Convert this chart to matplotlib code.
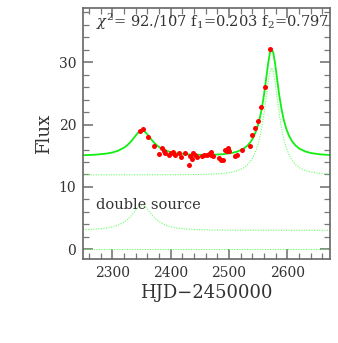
import matplotlib
matplotlib.use("Agg")
import matplotlib.pyplot as plt
from matplotlib.ticker import MultipleLocator

plt.rcParams["font.family"] = ["DejaVu Serif"]
plt.rcParams["mathtext.fontset"] = "dejavuserif"

# observed fluxes
obs_t = [2347, 2352, 2361, 2372, 2381, 2385, 2388, 2391, 2397, 2401,
         2404, 2408, 2414, 2418, 2425, 2432, 2434, 2437, 2439, 2442,
         2445, 2453, 2458, 2462, 2465, 2469, 2470, 2473, 2483, 2486,
         2490, 2494, 2497, 2499, 2500, 2511, 2514, 2522, 2536, 2539,
         2545, 2550, 2555, 2562, 2571]
obs_f = [18.9, 19.3, 18.0, 16.6, 15.3, 16.2, 15.8, 15.5, 15.1, 15.4,
         15.6, 15.2, 15.5, 14.8, 15.4, 13.6, 15.0, 14.5, 15.5, 15.2,
         14.8, 15.0, 15.1, 15.1, 15.3, 15.6, 15.1, 14.9, 14.6, 14.3,
         14.4, 16.0, 15.8, 16.2, 15.7, 15.0, 15.1, 15.9, 16.6, 18.3,
         19.4, 20.5, 22.8, 26.1, 32.1]

# model curves
mod_t = [2250, 2270, 2290, 2300, 2310, 2320, 2326, 2332, 2337, 2341,
         2345, 2348, 2351, 2354, 2357, 2361, 2365, 2370, 2376, 2382,
         2392, 2402, 2412, 2432, 2452, 2470, 2490, 2505, 2515, 2525,
         2532, 2538, 2543, 2548, 2552, 2556, 2560, 2564, 2567, 2570,
         2573, 2576, 2579, 2582, 2586, 2590, 2594, 2598, 2603, 2608,
         2614, 2621, 2631, 2641, 2656, 2675]
src1 = [3.14, 3.22, 3.40, 3.57, 3.86, 4.33, 4.76, 5.32, 5.90, 6.38,
        6.81, 7.03, 7.11, 7.03, 6.81, 6.38, 5.90, 5.32, 4.76, 4.33,
        3.86, 3.57, 3.40, 3.22, 3.14, 3.10, 3.08, 3.07, 3.07, 3.07,
        3.06, 3.06, 3.06, 3.06, 3.06, 3.06, 3.06, 3.06, 3.06, 3.06,
        3.06, 3.06, 3.06, 3.06, 3.05, 3.05, 3.05, 3.05, 3.05, 3.05,
        3.05, 3.05, 3.05, 3.05, 3.05, 3.05]
src2 = [11.95, 11.95, 11.95, 11.95, 11.95, 11.95, 11.95, 11.95, 11.95, 11.96,
        11.96, 11.96, 11.96, 11.96, 11.96, 11.96, 11.96, 11.96, 11.96, 11.96,
        11.96, 11.97, 11.97, 11.99, 12.01, 12.06, 12.18, 12.38, 12.63, 13.07,
        13.60, 14.29, 15.12, 16.32, 17.65, 19.42, 21.73, 24.54, 26.71, 28.42,
        29.09, 28.42, 26.71, 24.54, 21.73, 19.42, 17.65, 16.32, 15.12, 14.29,
        13.60, 13.07, 12.63, 12.38, 12.18, 12.06]
total = [15.09, 15.17, 15.35, 15.52, 15.81, 16.28, 16.71, 17.27, 17.85, 18.34,
         18.77, 18.99, 19.07, 18.99, 18.77, 18.34, 17.86, 17.28, 16.72, 16.29,
         15.82, 15.54, 15.37, 15.21, 15.15, 15.16, 15.26, 15.45, 15.70, 16.14,
         16.66, 17.35, 18.18, 19.38, 20.71, 22.48, 24.79, 27.60, 29.77, 31.48,
         32.15, 31.48, 29.77, 27.60, 24.78, 22.47, 20.70, 19.37, 18.17, 17.34,
         16.65, 16.12, 15.68, 15.43, 15.23, 15.11]
blend = [0.0] * len(mod_t)

fig = plt.figure(figsize=(3.38, 3.43), dpi=100)
ax = fig.add_axes([0.2456, 0.2449, 0.7307, 0.7318])

dot = dict(color="#66ff66", lw=0.8, ls=(0, (1, 1.3)))
ax.plot(mod_t, src2, **dot)
ax.plot(mod_t, src1, **dot)
ax.plot(mod_t, blend, **dot)
ax.plot(mod_t, total, color="#11ee11", lw=1.3)
ax.plot(obs_t, obs_f, "o", color="#ff0000", ms=3.6, mec="none")

ax.set_xlim(2250, 2673)
ax.set_ylim(-1.55, 38.7)
ax.xaxis.set_major_locator(MultipleLocator(100))
ax.xaxis.set_minor_locator(MultipleLocator(20))
ax.yaxis.set_major_locator(MultipleLocator(10))
ax.yaxis.set_minor_locator(MultipleLocator(2))
ax.tick_params(which="both", direction="in", top=True, right=True,
               color="#777777", labelcolor="#333333", labelsize=10, pad=5)
ax.tick_params(which="major", length=7, width=1.2)
ax.tick_params(which="minor", length=4, width=0.9)
for s in ax.spines.values():
    s.set_color("#666666")
    s.set_linewidth(1.2)

ax.set_xlabel("HJD\u22122450000", fontsize=13, color="#333333", labelpad=3)
ax.set_ylabel("Flux", fontsize=13, color="#333333", labelpad=4)

ax.text(2273, 36.4, r"$\chi^2$= 92./107 f$_1$=0.203 f$_2$=0.797",
        fontsize=10.5, color="#333333", va="center", ha="left")
ax.text(2273, 7.1, "double source", fontsize=10.5, color="#333333",
        va="center", ha="left")

fig.savefig("out.png", dpi=100)
